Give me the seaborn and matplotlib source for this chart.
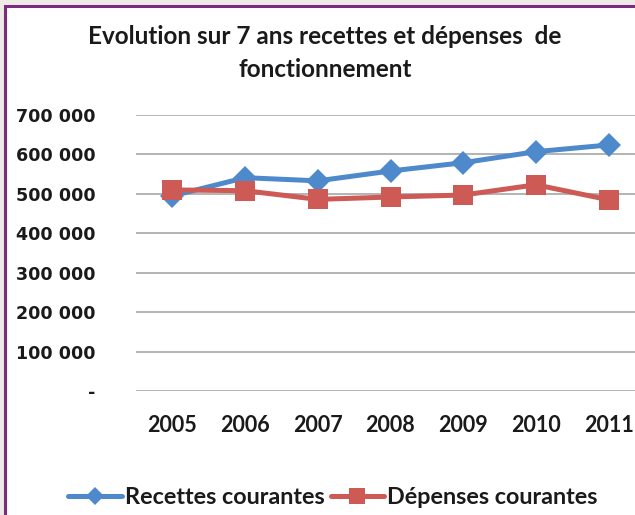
import pandas as pd
import matplotlib
matplotlib.use('Agg')
import matplotlib.pyplot as plt
import matplotlib.ticker as mticker
from matplotlib.patches import Rectangle
import seaborn as sns

# Data
years = ['2005', '2006', '2007', '2008', '2009', '2010', '2011']
recettes = [495000, 541000, 533000, 558000, 579000, 607000, 624000]
depenses = [510000, 508000, 486000, 492000, 497000, 523000, 485000]
series_names = ['Recettes courantes', 'Dépenses courantes']
y_ticks = [0, 100000, 200000, 300000, 400000, 500000, 600000, 700000]

df = pd.DataFrame({
    'Année': years * 2,
    'Montant': recettes + depenses,
    'Série': [series_names[0]] * len(years) + [series_names[1]] * len(years),
})

sns.set_style('white')
plt.rcParams['font.family'] = ['DejaVu Sans']

fig = plt.figure(figsize=(6.35, 5.15), dpi=100)
fig.patch.set_facecolor('#eeebe6')
# white card with purple border on left / top
fig.patches.append(Rectangle((5 / 635, -0.1), 1.2, (515 - 6) / 515 + 0.1,
                             transform=fig.transFigure, facecolor='white',
                             edgecolor='#7b2b80', lw=2.2, zorder=-1))

ax = fig.add_axes([136 / 635, 1 - 391 / 515, (645 - 136) / 635, (391 - 115) / 515])
ax.set_facecolor('none')

palette = {series_names[0]: '#4e8acb', series_names[1]: '#cd5a55'}
markers = {series_names[0]: 'D', series_names[1]: 's'}
sns.lineplot(data=df, x='Année', y='Montant', hue='Série', style='Série',
             palette=palette, markers=markers, dashes=False, lw=3.6,
             markersize=13, markeredgewidth=0, ax=ax, legend=False, sort=False)
# diamonds slightly smaller than squares
for line, ms in zip(ax.lines, [12, 14]):
    line.set_markersize(ms)

ax.set_xlim(-0.5, 6.5)
ax.set_ylim(0, 700000)
ax.set_yticks(y_ticks)
ax.yaxis.set_major_formatter(mticker.FuncFormatter(
    lambda v, p: '-' if v == 0 else f'{int(v):,}'.replace(',', ' ')))
ax.yaxis.grid(True, color='#b3b3b3', lw=1.4)
ax.set_axisbelow(True)
for s in ax.spines.values():
    s.set_visible(False)
ax.tick_params(axis='both', length=0)
ax.tick_params(axis='y', pad=29, labelsize=12.6)
for t in ax.get_yticklabels():
    t.set_fontweight('bold')
    t.set_color('#1a1a1a')
ax.tick_params(axis='x', pad=17)
for t in ax.get_xticklabels():
    t.set_fontfamily('Lato')
    t.set_fontweight('bold')
    t.set_fontsize(15.5)
    t.set_color('#1a1a1a')
ax.set_xlabel('')
ax.set_ylabel('')

fig.text(325 / 635, 1 - 36 / 515, 'Evolution sur 7 ans recettes et dépenses  de',
         ha='center', va='center', family='Lato', weight='bold', fontsize=17.5, color='#1a1a1a')
fig.text(325 / 635, 1 - 70 / 515, 'fonctionnement',
         ha='center', va='center', family='Lato', weight='bold', fontsize=17.5, color='#1a1a1a')

handles = [plt.Line2D([], [], color=palette[n], marker=markers[n], lw=3.6,
                      markersize=ms, markeredgewidth=0)
           for n, ms in zip(series_names, [9, 11])]
leg = fig.legend(handles, series_names, loc='center', bbox_to_anchor=(333 / 635, 1 - 498 / 515),
                 ncol=2, frameon=False, handlelength=2.3, handletextpad=0.12,
                 columnspacing=0.25, prop={'family': 'Lato', 'weight': 'bold', 'size': 16.8})
for t in leg.get_texts():
    t.set_color('#1a1a1a')

fig.savefig('out.png', dpi=100, facecolor=fig.get_facecolor())
